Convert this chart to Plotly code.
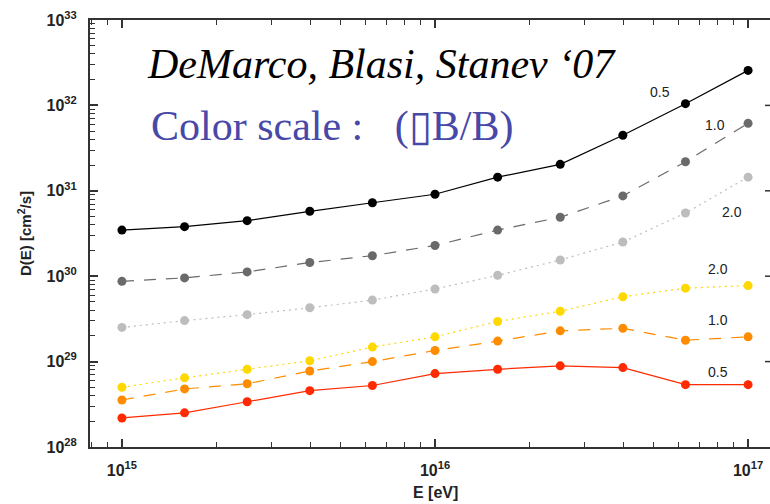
import plotly.graph_objects as go

# Energy grid (eV) and log10 of the diffusion coefficient D(E) in cm^2/s
log_energy = [15.0, 15.2, 15.4, 15.6, 15.8, 16.0, 16.2, 16.4, 16.6, 16.8, 17.0]

log_d_gray_05 = [30.54, 30.58, 30.65, 30.76, 30.86, 30.96, 31.16, 31.31, 31.65, 32.02, 32.41]
log_d_gray_10 = [29.94, 29.98, 30.05, 30.16, 30.24, 30.36, 30.54, 30.69, 30.94, 31.34, 31.79]
log_d_gray_20 = [29.40, 29.48, 29.55, 29.63, 29.72, 29.85, 30.01, 30.19, 30.40, 30.74, 31.16]
log_d_col_20 = [28.70, 28.81, 28.91, 29.01, 29.17, 29.29, 29.47, 29.59, 29.76, 29.86, 29.89]
log_d_col_10 = [28.55, 28.68, 28.74, 28.89, 29.00, 29.13, 29.24, 29.36, 29.39, 29.25, 29.29]
log_d_col_05 = [28.34, 28.40, 28.53, 28.66, 28.72, 28.86, 28.91, 28.95, 28.93, 28.73, 28.73]

curve_names = ["0.5", "1.0", "2.0", "2.0", "1.0", "0.5"]
# label anchor points (log10 E, log10 D) next to each curve end
label_log_x = [16.72, 16.895, 16.95, 16.905, 16.905, 16.905]
label_log_y = [32.16, 31.77, 30.75, 30.09, 29.49, 28.88]

x_tick_vals = [1e15, 1e16, 1e17]
x_tick_text = ["<b>10<sup>15</sup></b>", "<b>10<sup>16</sup></b>", "<b>10<sup>17</sup></b>"]
y_decades = [28, 29, 30, 31, 32, 33]
y_tick_vals = [10.0 ** p for p in y_decades]
y_tick_text = ["<b>10<sup>%d</sup></b>" % p for p in y_decades]

series_data = [log_d_gray_05, log_d_gray_10, log_d_gray_20,
               log_d_col_20, log_d_col_10, log_d_col_05]
series_colors = ["#000000", "#6a6a6a", "#bdbdbd", "#ffd800", "#ff8c00", "#ff2a00"]
series_dash = ["solid", "12px,10px", "2px,4px", "2px,4px", "12px,10px", "solid"]

energy = [10 ** v for v in log_energy]

fig = go.Figure()
for name, logs, color, dash in zip(curve_names, series_data, series_colors, series_dash):
    fig.add_trace(go.Scatter(
        x=energy, y=[10 ** v for v in logs], mode="lines+markers", name=name,
        line=dict(color=color, width=1.2, dash=dash),
        marker=dict(color=color, size=9, symbol="circle"),
        showlegend=False,
    ))

W, H = 770, 504
ml, mr, mt, mb = 90, 0, 20, 57
pw, ph = W - ml - mr, H - mt - mb


def px_to_paper(px, py):
    return (px - ml) / pw, 1 - (py - mt) / ph


ann = []
for lx, ly, t in zip(label_log_x, label_log_y, curve_names):
    ann.append(dict(x=lx, y=ly, xref="x", yref="y", text=t, showarrow=False,
                    font=dict(family="Liberation Sans", size=14, color="#222222")))

hx, hy = px_to_paper(145, 64)
ann.append(dict(x=hx, y=hy, xref="paper", yref="paper",
                text="<i>DeMarco, Blasi, Stanev \u201807</i>",
                showarrow=False, xanchor="left", yanchor="middle",
                font=dict(family="Liberation Serif", size=42, color="#000000")))
cx, cy = px_to_paper(149, 126)
ann.append(dict(x=cx, y=cy, xref="paper", yref="paper", text="Color scale :   (\u25afB/B)",
                showarrow=False, xanchor="left", yanchor="middle",
                font=dict(family="Liberation Serif", size=42, color="#4848a8")))
tx, ty = px_to_paper(24, 234)
ann.append(dict(x=tx, y=ty, xref="paper", yref="paper", text="<b>D(E) [cm<sup>2</sup>/s]</b>",
                showarrow=False, textangle=-90, xanchor="center", yanchor="middle",
                font=dict(family="Liberation Sans", size=15, color="#222222")))
ex, ey = px_to_paper(435, 493)
ann.append(dict(x=ex, y=ey, xref="paper", yref="paper", text="<b>E [eV]</b>",
                showarrow=False, xanchor="center", yanchor="middle",
                font=dict(family="Liberation Sans", size=16, color="#222222")))

# inward tick stubs of the right-hand frame, which sits just past the page edge
shapes = [dict(type="line", xref="paper", yref="y", x0=1 - 5 / pw, x1=1.0,
               y0=v, y1=v, line=dict(color="#333333", width=1.5))
          for v in y_tick_vals[1:-1]]

axis_common = dict(
    type="log", showgrid=False, zeroline=False,
    showline=True, linecolor="#333333", linewidth=2,
    ticks="inside", ticklen=8, tickwidth=1.5, tickcolor="#333333",
    tickfont=dict(family="Liberation Sans", size=16, color="#222222"),
    minor=dict(ticks="inside", ticklen=5, tickwidth=1, tickcolor="#333333",
               dtick="D1", showgrid=False),
)

fig.update_layout(
    width=W, height=H,
    margin=dict(l=ml, r=mr, t=mt, b=mb),
    paper_bgcolor="white", plot_bgcolor="white",
    annotations=ann,
    shapes=shapes,
    xaxis=dict(range=[14.898, 17.07], tickvals=x_tick_vals, ticktext=x_tick_text,
               ticklabelstandoff=8, mirror="ticks", **axis_common),
    yaxis=dict(range=[28, 33], tickvals=y_tick_vals, ticktext=y_tick_text,
               ticklabelstandoff=8, mirror=False, **axis_common),
)

fig.write_html("out.html")
